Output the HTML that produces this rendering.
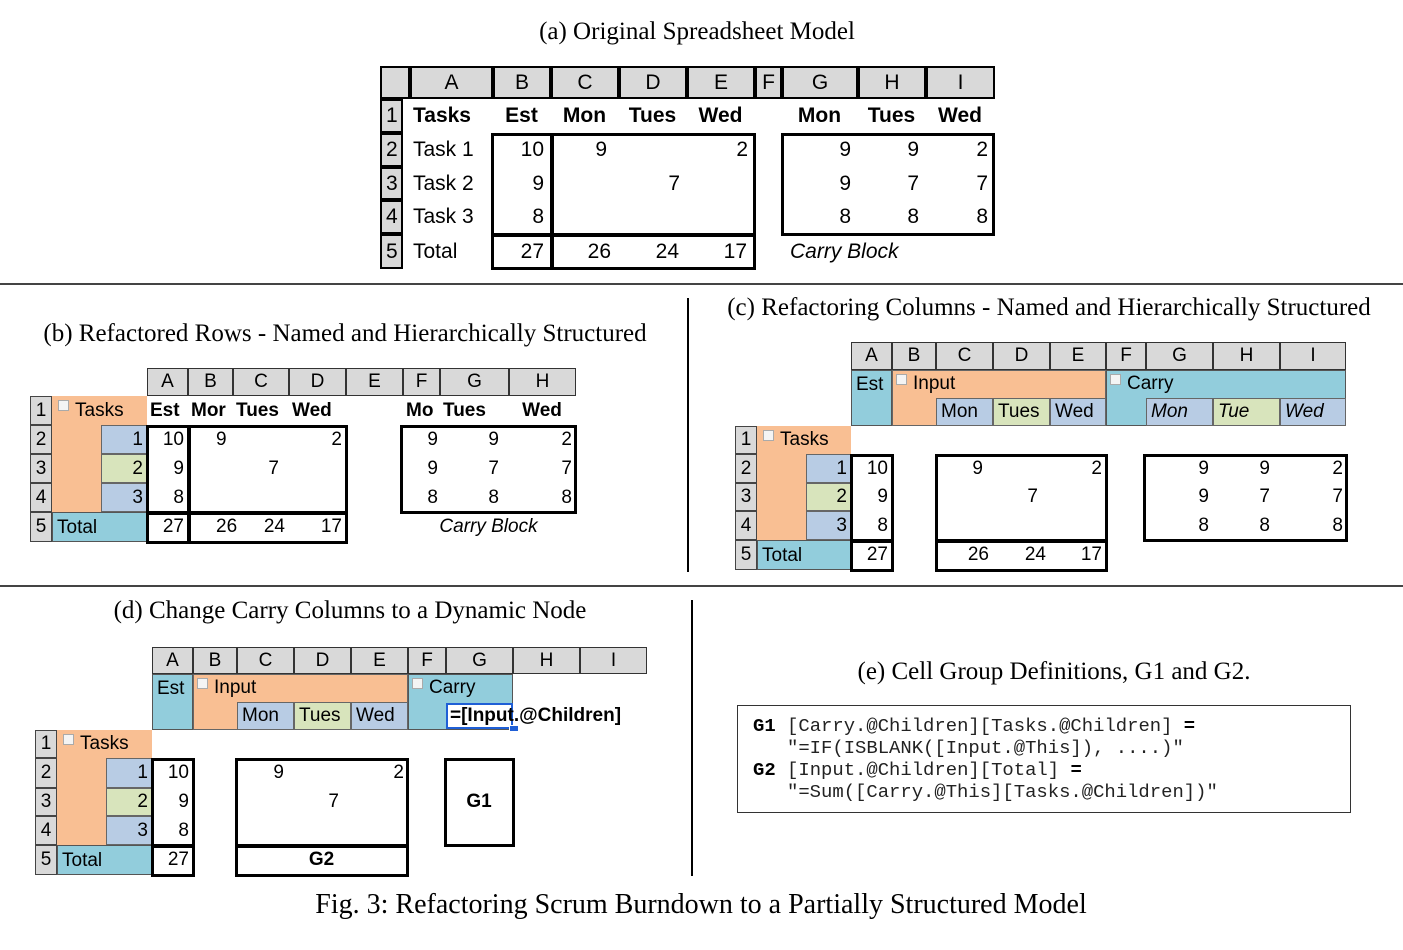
<!DOCTYPE html>
<html><head><meta charset="utf-8">
<style>
html,body{margin:0;padding:0;background:#fff;}
body{width:1403px;height:950px;position:relative;overflow:hidden;font-family:"Liberation Sans",sans-serif;}
.t{position:absolute;font-family:"Liberation Serif",serif;font-size:25px;color:#000;white-space:nowrap;transform:translateX(-50%);}
.c{position:absolute;box-sizing:border-box;white-space:nowrap;overflow:visible;color:#000;}
.hl{position:absolute;background:#000;}
.mono{position:absolute;font-family:"Liberation Mono",monospace;font-size:18.9px;white-space:pre;color:#222;}
</style></head><body>
<div class="t" style="left:697px;top:18px;">(a) Original Spreadsheet Model</div>
<div class="t" style="left:345px;top:320px;">(b) Refactored Rows - Named and Hierarchically Structured</div>
<div class="t" style="left:1049px;top:294px;">(c) Refactoring Columns - Named and Hierarchically Structured</div>
<div class="t" style="left:350px;top:597px;">(d) Change Carry Columns to a Dynamic Node</div>
<div class="t" style="left:1054px;top:658px;">(e) Cell Group Definitions, G1 and G2.</div>
<div class="t" style="left:701px;top:889px;font-size:28px;">Fig. 3: Refactoring Scrum Burndown to a Partially Structured Model</div>
<div class="hl" style="left:0;top:283px;width:1403px;height:1.5px;background:#444;"></div>
<div class="hl" style="left:0;top:585px;width:1403px;height:1.5px;background:#444;"></div>
<div class="hl" style="left:687px;top:298px;width:1.5px;height:274px;"></div>
<div class="hl" style="left:691px;top:600px;width:1.5px;height:276px;"></div>
<div style="position:absolute;left:737px;top:705px;width:614px;height:108px;border:1px solid #333;box-sizing:border-box;"></div>
<div class="mono" style="left:753px;top:715px;"><b style="color:#000">G1</b> [Carry.@Children][Tasks.@Children] <b style="color:#000">=</b></div>
<div class="mono" style="left:753px;top:737px;">   "=IF(ISBLANK([Input.@This]), ....)"</div>
<div class="mono" style="left:753px;top:759px;"><b style="color:#000">G2</b> [Input.@Children][Total] <b style="color:#000">=</b></div>
<div class="mono" style="left:753px;top:781px;">   "=Sum([Carry.@This][Tasks.@Children])"</div>
<script>
const GREY='#d9d9d9',OR='#f9bf93',BL='#b8cce4',GR='#d8e4bc',CY='#92cddc';
function cell(name,x1,y1,x2,y2,o){
  o=o||{};
  const d=document.createElement('div');
  
  
  d.className='c';
  const h=y2-y1;
  const lh=o.lh||(h-(o.bw||0));
  d.style.cssText+=`left:${x1}px;top:${y1}px;width:${x2-x1}px;height:${h}px;background:${o.bg||'transparent'};`+
   (o.b?`border:${o.b};`:'')+`font-size:${o.fs||18}px;line-height:${lh}px;`+
   `text-align:${o.al||'left'};padding:0 ${o.pr||4}px 0 ${o.pl||4}px;`+
   (o.fw?`font-weight:bold;`:'')+(o.fi?`font-style:italic;`:'')+(o.z?`z-index:${o.z};`:'');
  if(o.txt!==undefined){
    if(o.icon){
      const s=document.createElement('span');
      
      
      s.style.cssText='display:inline-block;width:9px;height:9px;border:1px solid #aaa;background:#f4f4f4;vertical-align:top;margin-top:4px;margin-right:6px;margin-left:-2px;';
      d.appendChild(s);
    }
    d.appendChild(document.createTextNode(o.txt));
  }
  document.body.appendChild(d);
  return d;
}
function box(name,x1,y1,x2,y2,w){cell(name,x1,y1,x2,y2,{b:`${w||3}px solid #000`,z:5});}

/* ---------- Panel A ---------- */
const aCols=[410,493,551,619,687,755,782,858,926,995];
const aLet=['A','B','C','D','E','F','G','H','I'];
const aRows=[99,133,167,200,234,269];
cell('a-corner',380,66,410,99,{bg:GREY,b:'2px solid #000'});
aLet.forEach((l,i)=>cell('a-col-header-'+l,aCols[i],66,aCols[i+1],99,{bg:GREY,b:'2px solid #000',txt:l,al:'center',fs:21,bw:4}));
for(let r=0;r<5;r++) cell('a-row-header-'+(r+1),380,aRows[r],403,aRows[r+1],{bg:GREY,b:'2px solid #000',txt:String(r+1),al:'center',fs:21,pl:0,pr:0,bw:4});
const aHead=['Tasks','Est','Mon','Tues','Wed','','Mon','Tues','Wed'];
aHead.forEach((t,i)=>{if(t)cell('a-header-'+t.toLowerCase(),aCols[i],aRows[0],aCols[i+1],aRows[1],{txt:t,fw:1,fs:21,al:i==0?'left':'center',pl:3});});
const aTasks=['Task 1','Task 2','Task 3','Total'];
const aEst=['10','9','8','27'];
const aInput=[['9','','2'],['','7',''],['','',''],['26','24','17']];
const aCarry=[['9','9','2'],['9','7','7'],['8','8','8']];
for(let r=0;r<4;r++){
  const y1=aRows[r+1],y2=aRows[r+2];
  cell('a-task-'+(r+1),aCols[0],y1,aCols[1],y2,{txt:aTasks[r],fs:21,pl:3});
  cell('a-est-'+(r+1),aCols[1],y1,aCols[2],y2,{txt:aEst[r],fs:21,al:'right',pr:7});
  aInput[r].forEach((v,j)=>cell('a-input-'+r+'-'+j,aCols[2+j],y1,aCols[3+j],y2,{txt:v,fs:21,al:'right',pr:r==3?8:(j==0?12:7)}));
  if(r<3) aCarry[r].forEach((v,j)=>cell('a-carry-'+r+'-'+j,aCols[6+j],y1,aCols[7+j],y2,{txt:v,fs:21,al:'right',pr:7}));
}
cell('a-carry-block-label',782,234,995,269,{txt:'Carry Block',fi:1,fs:21,pl:8});
box('a-est-box',491,133,553,236);box('a-input-box',551,133,756,236);
box('a-est-total-box',491,234,553,270);box('a-input-total-box',551,234,756,270);
box('a-carry-box',781,133,995,236);

/* ---------- shared structured layout ---------- */
function rowBlock(p,rx,rows,subx,tx){
  for(let r=0;r<5;r++) cell(p+'-row-header-'+(r+1),rx,rows[r],rx+22,rows[r+1],{bg:GREY,b:'1px solid #444',txt:String(r+1),al:'center',fs:19,pl:0,pr:0,bw:2});
  cell(p+'-tasks-group',rx+22,rows[0],tx,rows[4],{bg:OR,txt:'Tasks',icon:1,fs:19,pl:8,lh:rows[1]-rows[0]});
  cell(p+'-total',rx+22,rows[4],tx,rows[5],{bg:CY,b:'1px solid #555',txt:'Total',fs:19});
  [BL,GR,BL].forEach((c,i)=>cell(p+'-task-'+(i+1),subx,rows[i+1],tx,rows[i+2],{bg:c,b:'1px solid #666',txt:String(i+1),al:'right',fs:19,pr:3,bw:2}));
}
function colHeaders(p,cols,y1,y2,lets){
  lets.forEach((l,i)=>cell(p+'-col-header-'+l,cols[i],y1,cols[i+1],y2,{bg:GREY,b:'1px solid #333',txt:l,al:'center',fs:19,bw:2}));
}

/* ---------- Panel B ---------- */
const bCols=[147,188,233,289,346,403,440,509,576];
const bRows=[396,425,454,483,512,542];
colHeaders('b',bCols,368,396,['A','B','C','D','E','F','G','H']);
rowBlock('b',30,bRows,101,147);
const bHead=['Est','Mor','Tues','Wed','','Mo','Tues','Wed'];
bHead.forEach((t,i)=>{if(t)cell('b-header-'+i,bCols[i],bRows[0],bCols[i+1],bRows[1],{txt:t,fw:1,fs:19,al:i==7?'center':'left',pl:3});});
for(let r=0;r<4;r++){
  const y1=bRows[r+1],y2=bRows[r+2];
  cell('b-est-'+(r+1),bCols[0],y1,bCols[1],y2,{txt:aEst[r],fs:19,al:'right',pr:4});
  aInput[r].forEach((v,j)=>cell('b-input-'+r+'-'+j,bCols[1+j],y1,bCols[2+j],y2,{txt:v,fs:19,al:r==3||j>0?'right':'left',pl:28,pr:r==3?(j==0?12:4):(j==1?10:4)}));
  if(r<3) aCarry[r].forEach((v,j)=>cell('b-carry-'+r+'-'+j,bCols[5+j],y1,bCols[6+j],y2,{txt:v,fs:19,al:'right',pr:j==0?2:(j==1?10:4)}));
}
cell('b-carry-block-label',401,512,576,542,{txt:'Carry Block',fi:1,fs:19,al:'center'});
box('b-est-box',146,425,190,514);box('b-input-box',188,425,348,514);
box('b-est-total-box',146,512,190,544);box('b-input-total-box',188,512,348,544);
box('b-carry-box',400,425,577,514);

/* ---------- Panel C ---------- */
const cCols=[851,892,936,993,1050,1106,1146,1213,1280,1346];
const cRows=[426,454,483,511,540,570];
colHeaders('c',cCols,342,370,['A','B','C','D','E','F','G','H','I']);
cell('c-est-group',851,370,892,426,{bg:CY,b:'1px solid #555',txt:'Est',fs:19,pl:4,lh:28});
cell('c-input-group',892,370,1106,426,{bg:OR,b:'1px solid #666',fs:19});
cell('c-input-label',892,370,1106,398,{txt:'Input',icon:1,fs:19,pl:6});
cell('c-carry-group',1106,370,1346,426,{bg:CY,b:'1px solid #555',fs:19});
cell('c-carry-label',1106,370,1346,398,{txt:'Carry',icon:1,fs:19,pl:6});
const dayNames=['Mon','Tues','Wed'],dayBg=[BL,GR,BL];
dayNames.forEach((t,i)=>cell('c-input-day-'+t,cCols[2+i],398,cCols[3+i],426,{bg:dayBg[i],b:'1px solid #666',txt:t,fs:19,pl:4,bw:2}));
['Mon','Tue','Wed'].forEach((t,i)=>cell('c-carry-day-'+t,cCols[6+i],398,cCols[7+i],426,{bg:dayBg[i],b:'1px solid #666',txt:t,fs:19,fi:1,pl:4,bw:2}));
rowBlock('c',735,cRows,806,851);
for(let r=0;r<4;r++){
  const y1=cRows[r+1],y2=cRows[r+2];
  cell('c-est-'+(r+1),cCols[0],y1,cCols[1],y2,{txt:aEst[r],fs:19,al:'right',pr:4});
  aInput[r].forEach((v,j)=>cell('c-input-'+r+'-'+j,cCols[2+j],y1,cCols[3+j],y2,{txt:v,fs:19,al:'right',pr:r==3?4:(j==0?10:(j==1?12:4))}));
  if(r<3) aCarry[r].forEach((v,j)=>cell('c-carry-'+r+'-'+j,cCols[6+j],y1,cCols[7+j],y2,{txt:v,fs:19,al:'right',pr:j==2?3:(j==0?4:10)}));
}
box('c-est-box',850,454,894,542);box('c-input-box',935,454,1108,542);
box('c-est-total-box',850,540,894,572);box('c-input-total-box',935,540,1108,572);
box('c-carry-box',1143,454,1348,542);

/* ---------- Panel D ---------- */
const dCols=[152,193,237,294,351,408,446,513,580,647];
const dRows=[730,758,788,816,845,875];
colHeaders('d',dCols,647,674,['A','B','C','D','E','F','G','H','I']);
cell('d-est-group',152,674,193,730,{bg:CY,b:'1px solid #555',txt:'Est',fs:19,pl:4,lh:28});
cell('d-input-group',193,674,408,730,{bg:OR,b:'1px solid #666'});
cell('d-input-label',193,674,408,702,{txt:'Input',icon:1,fs:19,pl:6});
dayNames.forEach((t,i)=>cell('d-input-day-'+t,dCols[2+i],702,dCols[3+i],730,{bg:dayBg[i],b:'1px solid #666',txt:t,fs:19,pl:4,bw:2}));
cell('d-carry-group',408,674,513,730,{bg:CY,b:'1px solid #555'});
cell('d-carry-label',408,674,513,702,{txt:'Carry',icon:1,fs:19,pl:6});
const fb=cell('d-formula-cell',446,703,513,729,{bg:'#fff',b:'2px solid #1f5fd6',txt:'=[Input.@Children]',fs:19,pl:2,bw:4,z:6});

fb.style.fontWeight='bold';
cell('d-formula-handle',509,725,516,732,{bg:'#1f5fd6',b:'1px solid #fff',z:7});
rowBlock('d',35,dRows,106,152);
for(let r=0;r<4;r++){
  const y1=dRows[r+1],y2=dRows[r+2];
  cell('d-est-'+(r+1),dCols[0],y1,dCols[1],y2,{txt:aEst[r],fs:19,al:'right',pr:4});
  if(r<3) aInput[r].forEach((v,j)=>cell('d-input-'+r+'-'+j,dCols[2+j],y1,dCols[3+j],y2,{txt:v,fs:19,al:'right',pr:j==0?10:(j==1?12:4)}));
}
cell('d-g2-label',236,845,407,875,{txt:'G2',fw:1,fs:19,al:'center'});
cell('d-g1-label',445,758,513,845,{txt:'G1',fw:1,fs:19,al:'center'});
box('d-est-box',151,758,195,847);box('d-input-box',235,758,409,847);
box('d-est-total-box',151,845,195,877);box('d-g2-box',235,845,409,877);
box('d-g1-box',444,758,515,847);
</script>
</body></html>
